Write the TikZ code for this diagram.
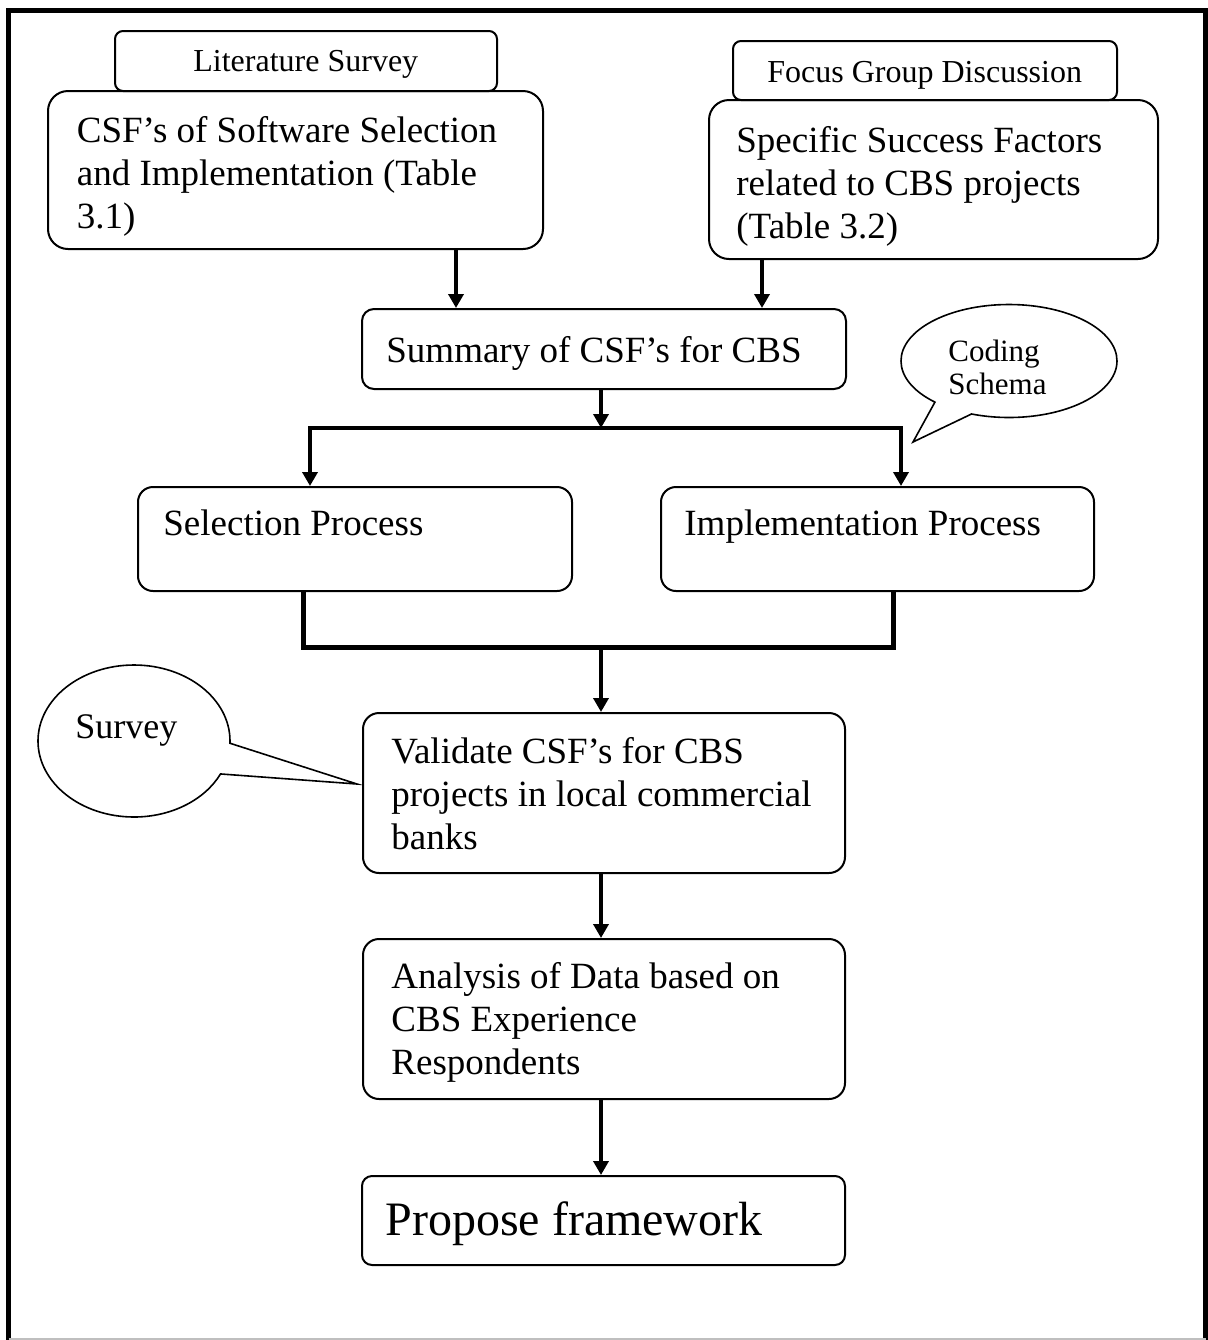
\documentclass[tikz,border=0pt]{standalone}
\usepackage{fontspec}
\setmainfont{Liberation Serif}
\usetikzlibrary{arrows.meta,fit,shapes.callouts}

\begin{document}
\begin{tikzpicture}[x=0.5pt, y=-0.5pt,
  box/.style={draw, line width=1pt, inner sep=0pt, rounded corners=#1},
  box/.default=7.5pt,
  conn/.style={line width=2pt},
  arr/.style={conn, -{Triangle[length=7pt,width=7.5pt]}},
  maintext/.style={font=\fontsize{18.5}{21.5}\selectfont},
  smalltext/.style={font=\fontsize{16}{19}\selectfont},
  body/.style={maintext, inner sep=0pt, anchor=north west, align=left},
  one/.style={inner sep=0pt, anchor=base west},
  bubble/.style={ellipse callout, draw, line width=0.8pt, inner sep=0pt}
]
\useasboundingbox (0,0) rectangle (1208,1340);

% outer frame
\draw[line width=2.5pt] (8.5,1340) -- (8.5,10.5) -- (1205.5,10.5) -- (1205.5,1340);
\draw[black!25, line width=1pt] (8.5,1338.5) -- (1205.5,1338.5);

% sources
\node[box=4pt, fit={(115,31) (497,91)}] (lit) {};
\node[one, smalltext] (littxt) at (193,71) {Literature Survey};
\node[box=10pt, fit={(48,91) (543,249)}] (csf) {};
\node[body] (csftxt) at (76.5,111.9) {\strut CSF’s of Software Selection\\and Implementation (Table\\3.1)};

\node[box=4pt, fit={(733,41) (1117,100)}] (focus) {};
\node[one, smalltext] (focustxt) at (767,82) {Focus Group Discussion};
\node[box=10pt, fit={(709,100) (1158,259)}] (spec) {};
\node[body] (spectxt) at (736,121.9) {\strut Specific Success Factors\\related to CBS projects\\(Table 3.2)};

% summary and the two processes
\node[box=6pt, fit={(362,309) (846,389)}] (sum) {};
\node[one, maintext] (sumtxt) at (386,362) {Summary of CSF’s for CBS};

\node[box, fit={(138,487) (572,591)}] (sel) {};
\node[one, maintext] (seltxt) at (163,535) {Selection Process};
\node[box, fit={(661,487) (1094,591)}] (imp) {};
\node[one, maintext] (imptxt) at (684,535) {Implementation Process};

% validation, analysis, framework
\node[box=8pt, fit={(363,713) (845,873)}] (val) {};
\node[body] (valtxt) at (391,732.9) {\strut Validate CSF’s for CBS\\projects in local commercial\\banks};
\node[box=8pt, fit={(363,939) (845,1099)}] (ana) {};
\node[body] (anatxt) at (391,957.9) {\strut Analysis of Data based on\\CBS Experience\\Respondents};
\node[box=5pt, fit={(362,1176) (845,1265)}] (prop) {};
\node[one, font=\fontsize{24}{28}\selectfont] (proptxt) at (385,1235) {Propose framework};

% connector routing points
\coordinate (a1) at (456,0);
\coordinate (a2) at (762,0);
\coordinate (spine) at (601,0);
\coordinate (split) at (601,428);
\coordinate (splitL) at (310,428);
\coordinate (splitR) at (901,428);
\coordinate (mergeL) at (303,647);
\coordinate (mergeR) at (893,647);
\coordinate (merge) at (601,647);

\draw[arr] (csf.south -| a1) -- (sum.north -| a1);
\draw[arr] (spec.south -| a2) -- (sum.north -| a2);
\draw[arr] (sum.south -| spine) -- (split);
\draw[conn, line cap=rect] (splitL) -- (splitR);
\draw[arr] (splitL) -- (sel.north -| splitL);
\draw[arr] (splitR) -- (imp.north -| splitR);
\draw[conn, line width=2.5pt] (sel.south -| mergeL) -- (mergeL) -- (mergeR) -- (imp.south -| mergeR);
\draw[arr] (merge) -- (val.north -| spine);
\draw[arr] (val.south -| spine) -- (ana.north -| spine);
\draw[arr] (ana.south -| spine) -- (prop.north -| spine);

% speech bubbles
\coordinate (survtip) at ([xshift=-2.5pt,yshift=4.5pt]val.west);
\node[bubble, minimum width=96pt, minimum height=76pt,
      callout absolute pointer={(survtip)}, callout pointer arc=24] (surv) at (134,741) {};
\node[one, font=\fontsize{18}{21}\selectfont] (survtxt) at (75,738) {Survey};

\coordinate (codetip) at ([xshift=6pt,yshift=-7pt]splitR);
\node[bubble, minimum width=108pt, minimum height=56.5pt,
      callout absolute pointer={(codetip)}, callout pointer arc=23] (code) at (1009,361) {};
\node[inner sep=0pt, anchor=north west, align=left, font=\fontsize{15.5}{16.5}\selectfont]
  (codetxt) at (948,337.9) {\strut Coding\\Schema};
\end{tikzpicture}
\end{document}
